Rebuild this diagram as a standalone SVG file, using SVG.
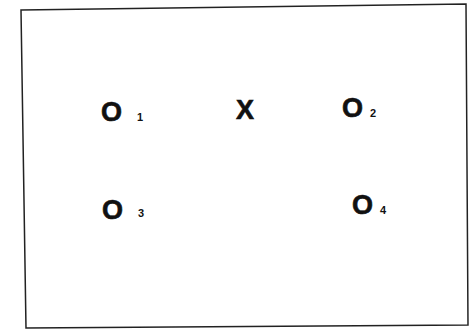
<svg xmlns="http://www.w3.org/2000/svg" width="469" height="329" viewBox="0 0 469 329">
<style>
.big{font-family:"Liberation Sans",Arial,sans-serif;font-weight:bold;font-size:27px;fill:#111;stroke:#111;stroke-width:0.6}
.sub{font-family:"Liberation Sans",Arial,sans-serif;font-weight:bold;font-size:11px;fill:#111}
</style>
<rect width="469" height="329" fill="#fff"/>
<polygon points="21,10 466,4 468,325 26,328" fill="none" stroke="#222" stroke-width="1.5"/>
<g id="o1"><text class="big" x="101" y="121">O</text><text class="sub" x="137" y="121">1</text></g>
<g id="x"><text class="big" x="236" y="119">X</text></g>
<g id="o2"><text class="big" x="342" y="117">O</text><text class="sub" x="370" y="117">2</text></g>
<g id="o3"><text class="big" x="102" y="219">O</text><text class="sub" x="138" y="217">3</text></g>
<g id="o4"><text class="big" x="352" y="214">O</text><text class="sub" x="380" y="214">4</text></g>
</svg>
